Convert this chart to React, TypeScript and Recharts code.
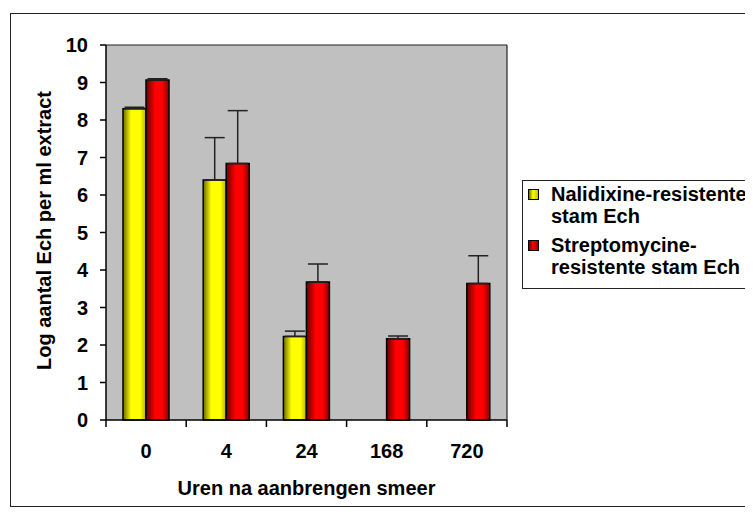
import React from 'react';
import {
  BarChart,
  Bar,
  XAxis,
  YAxis,
  CartesianGrid,
  ErrorBar,
  Legend,
  Label,
} from 'recharts';

const hours = ['0', '4', '24', '168', '720'];
const nalidixine = [8.3, 6.4, 2.23, null, null];
const nalidixineErr = [0.04, 1.13, 0.14, null, null];
const streptomycine = [9.07, 6.84, 3.68, 2.17, 3.64];
const streptomycineErr = [0.03, 1.41, 0.48, 0.07, 0.74];
const seriesNames = ['Nalidixine-resistente\nstam Ech', 'Streptomycine-\nresistente stam Ech'];
const yTicks = [0, 1, 2, 3, 4, 5, 6, 7, 8, 9, 10];

const data = hours.map((h, i) => ({
  hour: h,
  nal: nalidixine[i],
  nalErr: nalidixineErr[i],
  strep: streptomycine[i],
  strepErr: streptomycineErr[i],
}));

const font = "Arial, 'Liberation Sans', sans-serif";
const textStyle = { fill: '#000', fontSize: 20, fontWeight: 'bold', fontFamily: font };
const X_TICK_GAP = 24;

// category label in the middle, tick mark on the group boundary (Excel style)
function HourTick(props: any) {
  const { x, y, payload, index, visibleTicksCount } = props;
  const axisY = y - X_TICK_GAP;
  const half = payload.offset || 0;
  const isLast = index === visibleTicksCount - 1;
  return (
    <g>
      <line x1={x - half} x2={x - half} y1={axisY} y2={axisY + 7} stroke="#000" strokeWidth={1.5} />
      {isLast && (
        <line x1={x + half} x2={x + half} y1={axisY} y2={axisY + 7} stroke="#000" strokeWidth={1.5} />
      )}
      <text x={x} y={y} dy="0.71em" textAnchor="middle" {...textStyle}>
        {payload.value}
      </text>
    </g>
  );
}

const legendItems = [
  { name: seriesNames[0], swatch: 'linear-gradient(90deg, #707000, #ffff00 45%, #c0c000)' },
  { name: seriesNames[1], swatch: 'linear-gradient(90deg, #700000, #ff0000 45%, #900000)' },
];

function ChartLegend() {
  return (
    <div
      style={{
        border: '1px solid #222',
        background: '#fff',
        width: 240,
        height: 109,
        boxSizing: 'border-box',
        padding: '2px 0 0 5px',
        fontFamily: font,
        fontWeight: 'bold',
        fontSize: 20,
        color: '#000',
      }}
    >
      {legendItems.map((item) => (
        <div key={item.name} style={{ display: 'flex', alignItems: 'flex-start', marginBottom: 7 }}>
          <span
            style={{
              display: 'inline-block',
              width: 9,
              height: 9,
              border: '1px solid #000',
              background: item.swatch,
              marginTop: 6,
              marginRight: 12,
              flexShrink: 0,
            }}
          />
          <span style={{ whiteSpace: 'pre-line', lineHeight: '22px' }}>{item.name}</span>
        </div>
      ))}
    </div>
  );
}

export default function App() {
  return (
    <div style={{ position: 'relative', width: 745, height: 504, overflow: 'hidden', fontFamily: font }}>
      <div
        style={{
          position: 'absolute',
          left: 2,
          top: 5,
          width: 760,
          height: 494,
          border: '1px solid #222',
          boxSizing: 'border-box',
        }}
      />
      <BarChart
        width={745}
        height={504}
        data={data}
        margin={{ top: 36, right: 245, bottom: 12, left: 58 }}
        barGap={0}
        barSize={23}
        style={{ position: 'absolute', left: 0, top: 0 }}
      >
        <defs>
          <linearGradient id="gradYellow" x1="0" y1="0" x2="1" y2="0">
            <stop offset="0%" stopColor="#6a6a00" />
            <stop offset="35%" stopColor="#ffff00" />
            <stop offset="75%" stopColor="#ffff00" />
            <stop offset="100%" stopColor="#b0b000" />
          </linearGradient>
          <linearGradient id="gradRed" x1="0" y1="0" x2="1" y2="0">
            <stop offset="0%" stopColor="#6a0000" />
            <stop offset="40%" stopColor="#ff0000" />
            <stop offset="70%" stopColor="#ff0000" />
            <stop offset="100%" stopColor="#8a0000" />
          </linearGradient>
        </defs>
        <CartesianGrid horizontal={false} vertical={false} fill="#c0c0c0" xAxisId="cat" />
        <XAxis
          xAxisId="cat"
          dataKey="hour"
          height={80}
          axisLine={{ stroke: '#000', strokeWidth: 1.5 }}
          tickLine={false}
          tickSize={0}
          tickMargin={X_TICK_GAP}
          interval={0}
          tick={<HourTick />}
        >
          <Label value="Uren na aanbrengen smeer" position="insideBottom" offset={5} style={textStyle} />
        </XAxis>
        <XAxis
          xAxisId="top"
          orientation="top"
          height={1}
          tickFormatter={() => ''}
          tickLine={false}
          axisLine={{ stroke: '#222', strokeWidth: 1.2 }}
        />
        <YAxis
          domain={[0, 10]}
          ticks={yTicks}
          interval={0}
          width={40}
          tickSize={6}
          tickMargin={12}
          axisLine={{ stroke: '#000', strokeWidth: 1.5 }}
          tickLine={{ stroke: '#000', strokeWidth: 1.5 }}
          tick={textStyle}
        >
          <Label
            value="Log aantal Ech per ml extract"
            angle={-90}
            position="center"
            dx={-42}
            dy={-2}
            style={{ ...textStyle, textAnchor: 'middle' }}
          />
        </YAxis>
        <YAxis
          yAxisId="right"
          orientation="right"
          width={1}
          tickFormatter={() => ''}
          tickLine={false}
          axisLine={{ stroke: '#222', strokeWidth: 1.2 }}
        />
        <Legend
          layout="vertical"
          align="center"
          verticalAlign="middle"
          content={() => <ChartLegend />}
          wrapperStyle={{ left: 514, top: 172, width: 240, height: 109 }}
        />
        <Bar
          xAxisId="cat"
          dataKey="nal"
          name={seriesNames[0]}
          fill="url(#gradYellow)"
          stroke="#000"
          strokeWidth={1.5}
          isAnimationActive={false}
        >
          <ErrorBar
            dataKey={(d: any) => (d.nalErr == null ? [0, 0] : [0, d.nalErr])}
            width={10}
            stroke="#222"
            strokeWidth={1.5}
            direction="y"
          />
        </Bar>
        <Bar
          xAxisId="cat"
          dataKey="strep"
          name={seriesNames[1]}
          fill="url(#gradRed)"
          stroke="#000"
          strokeWidth={1.5}
          isAnimationActive={false}
        >
          <ErrorBar
            dataKey={(d: any) => [0, d.strepErr]}
            width={10}
            stroke="#222"
            strokeWidth={1.5}
            direction="y"
          />
        </Bar>
      </BarChart>
    </div>
  );
}
